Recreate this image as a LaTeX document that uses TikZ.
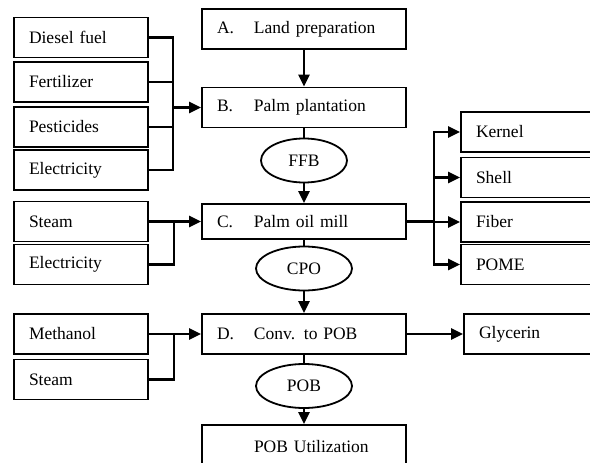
\documentclass[tikz,border=0pt]{standalone}
\usepackage{fontspec}
\setmainfont{Liberation Serif}
\usetikzlibrary{shapes.geometric, arrows.meta}

\tikzstyle{stage} = [rectangle, 
minimum width=204pt, 
minimum height=40pt, 
text width=174pt, 
inner xsep=15pt, 
align=left, 
draw=black, 
line width=1.8pt]
\tikzstyle{side} = [rectangle, 
minimum width=134pt, 
minimum height=40pt, 
text width=104pt, 
inner xsep=15pt, 
align=left, 
draw=black, 
line width=1.8pt]
\tikzstyle{stream} = [ellipse, 
minimum width=96pt, 
minimum height=44pt, 
inner sep=0pt, 
draw=black, 
line width=1.8pt]
\tikzstyle{link} = [line width=2.6pt]
\tikzstyle{arrow} = [link, -{Triangle[length=12pt,width=11pt]}]

\newcommand{\stagelabel}[2]{\makebox[37pt][l]{#1}#2}

\begin{document}
\begin{tikzpicture}[x=1pt, y=-1pt, font=\fontsize{17.5}{20}\selectfont]
	\useasboundingbox (0,0) rectangle (590,463);
	
	% main process column
	\node (landprep) [stage] at (304,29) {\stagelabel{A.}{Land preparation}};
	\node (plantation) [stage, below of=landprep, node distance=78.5pt] {\stagelabel{B.}{Palm plantation}};
	\node (ffb) [stream, minimum width=86pt, below of=plantation, node distance=53pt] {FFB};
	\node (mill) [stage, minimum height=35pt, below of=ffb, node distance=61pt] {\stagelabel{C.}{Palm oil mill}};
	\node (cpo) [stream, below of=mill, node distance=47pt] {CPO};
	\node (conv) [stage, below of=cpo, node distance=65.5pt] {\stagelabel{D.}{Conv. to POB}};
	\node (pob) [stream, below of=conv, node distance=52pt] {POB};
	\node (use) [stage, minimum height=44pt, below of=pob, node distance=61pt] {\hspace*{37pt}POB Utilization};
	
	% inputs of the plantation
	\node (diesel) [side] at (81,37.5) {Diesel fuel};
	\node (fert) [side, below of=diesel, node distance=44.5pt] {Fertilizer};
	\node (pest) [side, below of=fert, node distance=45pt] {Pesticides};
	\node (elec) [side, below of=pest, node distance=43pt] {Electricity};
	
	% inputs of the mill and of the conversion
	\node (steam) [side, left of=mill, node distance=223pt] {Steam};
	\node (elecmill) [side, below of=steam, node distance=43pt] {Electricity};
	\node (methanol) [side, left of=conv, node distance=223pt] {Methanol};
	\node (steamconv) [side, below of=methanol, node distance=45.5pt] {Steam};
	
	% by-products
	\node (kernel) [side] at (528,132) {Kernel};
	\node (shell) [side, below of=kernel, node distance=45.5pt] {Shell};
	\node (fiber) [side, below of=shell, node distance=44.5pt] {Fiber};
	\node (pome) [side, below of=fiber, node distance=42.5pt] {POME};
	\node (glycerin) [side, right of=conv, node distance=227pt] {Glycerin};
	
	% junction points
	\coordinate (jplant) at ([xshift=-28pt]plantation.west);
	\coordinate (jmill) at ([xshift=-27pt]mill.west);
	\coordinate (jconv) at ([xshift=-27pt]conv.west);
	\coordinate (jout) at ([xshift=27pt]mill.east);
	
	\draw [arrow] (landprep) -- (plantation);
	\draw [link] (plantation) -- (ffb);
	\draw [arrow] (ffb) -- (mill);
	\draw [link] (mill) -- (cpo);
	\draw [arrow] (cpo) -- (conv);
	\draw [link] (conv) -- (pob);
	\draw [arrow] (pob) -- (use);
	
	\draw [link] (diesel.east) -| (jplant);
	\draw [link] (fert.east) -| (jplant);
	\draw [link] (pest.east) -| (jplant);
	\draw [link] (elec.east) -| (jplant);
	\draw [arrow] (jplant) -- (plantation);
	
	\draw [link] (steam.east) -| (jmill);
	\draw [link] (elecmill.east) -| (jmill);
	\draw [arrow] (jmill) -- (mill);
	
	\draw [link] (methanol.east) -| (jconv);
	\draw [link] (steamconv.east) -| (jconv);
	\draw [arrow] (jconv) -- (conv);
	
	\draw [link] (mill) -- (jout);
	\draw [arrow] (jout) |- (kernel);
	\draw [arrow] (jout) |- (shell);
	\draw [arrow] (jout) |- (fiber);
	\draw [arrow] (jout) |- (pome);
	\draw [arrow] (conv) -- (glycerin);
	
\end{tikzpicture}
\end{document}
